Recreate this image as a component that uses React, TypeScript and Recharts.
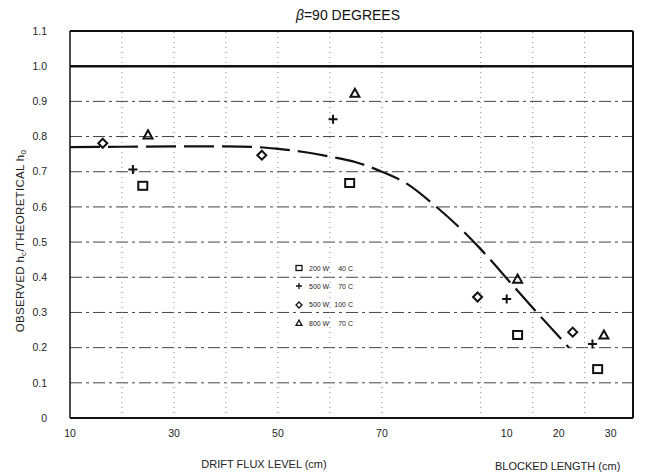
import {
  ComposedChart,
  CartesianGrid,
  Legend,
  Line,
  ReferenceLine,
  Scatter,
  XAxis,
  YAxis
} from "recharts";

type Pt = [number, number];

const fluxTicks = [10, 30, 50, 70];
const blockedTicks = [10, 20, 30];
const ratioTicks = [0, 0.1, 0.2, 0.3, 0.4, 0.5, 0.6, 0.7, 0.8, 0.9, 1.0, 1.1];
const fluxGridLines = [20, 30, 40, 50, 60, 70];
const blockedGridLines = [5, 15, 25];

// the blocked-length scale starts where the drift-flux scale would read 84
const BLOCKED_ORIGIN = 84;
const X_MAX = 118.3;

// [drift flux level or blocked length (cm), observed/theoretical]
const w200c40Flux: Pt[] = [[24, 0.66], [63.8, 0.668]];
const w200c40Blocked: Pt[] = [[12.1, 0.236], [27.5, 0.139]];
const w500c70Flux: Pt[] = [[22.1, 0.706], [60.6, 0.849]];
const w500c70Blocked: Pt[] = [[10, 0.338], [26.5, 0.21]];
const w500c100Flux: Pt[] = [[16.3, 0.781], [46.9, 0.747]];
const w500c100Blocked: Pt[] = [[4.4, 0.344], [22.7, 0.244]];
const w800c70Flux: Pt[] = [[25, 0.805], [64.8, 0.923]];
const w800c70Blocked: Pt[] = [[12.1, 0.395], [28.7, 0.236]];

// fitted trend, in positions along the combined axis
const fitPos = [10, 20, 30, 40, 46, 50, 55, 60, 65, 70, 75, 80, 85, 89, 95, 100, 106];
const fitRatio = [0.77, 0.771, 0.772, 0.772, 0.77, 0.765, 0.756, 0.743, 0.727, 0.7, 0.664, 0.606, 0.54, 0.48, 0.38, 0.297, 0.2];

const fitData = fitPos.map((x, i) => ({ x, y: fitRatio[i] }));

const series = [
  { power: "200 W", temp: "40 C", kind: "square", flux: w200c40Flux, blocked: w200c40Blocked },
  { power: "500 W", temp: "70 C", kind: "plus", flux: w500c70Flux, blocked: w500c70Blocked },
  { power: "500 W", temp: "100 C", kind: "diamond", flux: w500c100Flux, blocked: w500c100Blocked },
  { power: "800 W", temp: "70 C", kind: "triangle", flux: w800c70Flux, blocked: w800c70Blocked }
];

function toPoints(flux: Pt[], blocked: Pt[]) {
  return [
    ...flux.map(([v, r]) => ({ x: v, y: r })),
    ...blocked.map(([b, r]) => ({ x: BLOCKED_ORIGIN + b, y: r }))
  ];
}

function Marker({ kind, cx, cy, size = 9, sw = 2 }: { kind: string; cx: number; cy: number; size?: number; sw?: number }) {
  const h = size / 2;
  const common = { fill: "none", stroke: "#111", strokeWidth: sw };
  if (kind === "square") {
    return <rect x={cx - h} y={cy - h + 0.5} width={size} height={size - 1} {...common} />;
  }
  if (kind === "plus") {
    return <path d={`M${cx - h},${cy}H${cx + h}M${cx},${cy - h}V${cy + h}`} {...common} />;
  }
  if (kind === "diamond") {
    return <path d={`M${cx},${cy - h}L${cx + h},${cy}L${cx},${cy + h}L${cx - h},${cy}Z`} {...common} />;
  }
  return <path d={`M${cx},${cy - h}L${cx + h},${cy + h * 0.8}L${cx - h},${cy + h * 0.8}Z`} {...common} />;
}

function formatX(v: number) {
  return v > BLOCKED_ORIGIN ? String(Math.round(v - BLOCKED_ORIGIN)) : String(v);
}

function formatRatio(v: number) {
  return v === 0 ? "0" : v.toFixed(1);
}

function renderLegend() {
  return (
    <div style={{ fontSize: 7, color: "#222", fontFamily: FONT }}>
      {series.map((s) => (
        <div key={s.kind} style={{ display: "flex", alignItems: "center", height: 18.3, whiteSpace: "nowrap" }}>
          <svg width={10} height={10} style={{ marginRight: 5, flex: "none" }}>
            <Marker kind={s.kind} cx={5} cy={5} size={6} sw={1.3} />
          </svg>
          <span style={{ width: 24, color: "#222" }}>{s.power}</span>
          <span style={{ width: 20, textAlign: "right", color: "#222" }}>{s.temp}</span>
        </div>
      ))}
    </div>
  );
}

const FONT = '"Liberation Sans", Arial, sans-serif';

export default function App() {
  return (
    <div style={{ position: "absolute", left: 0, top: 0, width: 645, height: 476, background: "#fff", fontFamily: FONT }}>
      <ComposedChart width={645} height={476} margin={{ top: 31, right: 12, bottom: 28, left: 30 }}>
        <CartesianGrid vertical={false} stroke="#444" strokeDasharray="12 4 3 4" />
        {fluxGridLines.map((v) => (
          <ReferenceLine key={`f${v}`} x={v} stroke="#888" strokeDasharray="1 4" />
        ))}
        {blockedGridLines.map((b) => (
          <ReferenceLine key={`b${b}`} x={BLOCKED_ORIGIN + b} stroke="#888" strokeDasharray="1 4" />
        ))}
        <XAxis
          type="number"
          dataKey="x"
          domain={[10, X_MAX]}
          allowDataOverflow
          ticks={[...fluxTicks, ...blockedTicks.map((b) => BLOCKED_ORIGIN + b)]}
          tickFormatter={formatX}
          height={30}
          tickLine={false}
          tickSize={0}
          tickMargin={12}
          axisLine={{ stroke: "#111", strokeWidth: 2 }}
          tick={{ fill: "#222", fontSize: 10.5, fontFamily: FONT }}
        />
        <YAxis
          type="number"
          dataKey="y"
          domain={[0, 1.1]}
          ticks={ratioTicks}
          tickFormatter={formatRatio}
          width={40}
          tickLine={false}
          tickSize={0}
          tickMargin={23}
          axisLine={{ stroke: "#111", strokeWidth: 1.5 }}
          tick={{ fill: "#222", fontSize: 10.5, fontFamily: FONT }}
        />
        <ReferenceLine y={1.1} stroke="#111" strokeWidth={2} />
        <ReferenceLine y={1.0} stroke="#111" strokeWidth={2.6} />
        <ReferenceLine x={X_MAX} stroke="#111" strokeWidth={2} />
        <Line
          data={fitData}
          dataKey="y"
          type="monotone"
          stroke="#111"
          strokeWidth={2.2}
          strokeDasharray="30 8"
          dot={false}
          activeDot={false}
          isAnimationActive={false}
        />
        {series.map((s) => (
          <Scatter
            key={s.kind}
            name={`${s.power} ${s.temp}`}
            data={toPoints(s.flux, s.blocked)}
            isAnimationActive={false}
            shape={(p: any) => <Marker kind={s.kind} cx={p.cx} cy={p.cy} />}
          />
        ))}
        <Legend
          layout="vertical"
          align="center"
          verticalAlign="middle"
          wrapperStyle={{ left: 294, top: 259, width: 90 }}
          content={renderLegend}
        />
      </ComposedChart>

      <div style={{ position: "absolute", left: 248, top: 6, width: 200, textAlign: "center", fontSize: 14, lineHeight: "18px", color: "#111" }}>
        <i>β</i>=90 DEGREES
      </div>
      <div
        style={{
          position: "absolute",
          left: -100,
          top: 234,
          width: 240,
          height: 14,
          lineHeight: "14px",
          textAlign: "center",
          fontSize: 11.5,
          letterSpacing: 0.3,
          color: "#222",
          transform: "rotate(-90deg)",
          whiteSpace: "nowrap"
        }}
      >
        OBSERVED h<span style={{ fontSize: 8, verticalAlign: -2 }}>c</span>/THEORETICAL h
        <span style={{ fontSize: 8, verticalAlign: -2 }}>0</span>
      </div>
      <div style={{ position: "absolute", left: 164, top: 457, width: 200, textAlign: "center", fontSize: 11, lineHeight: "14px", color: "#222", whiteSpace: "nowrap" }}>
        DRIFT FLUX LEVEL (cm)
      </div>
      <div style={{ position: "absolute", left: 495, top: 459, fontSize: 11, lineHeight: "14px", color: "#222", whiteSpace: "nowrap" }}>
        BLOCKED LENGTH (cm)
      </div>
    </div>
  );
}
